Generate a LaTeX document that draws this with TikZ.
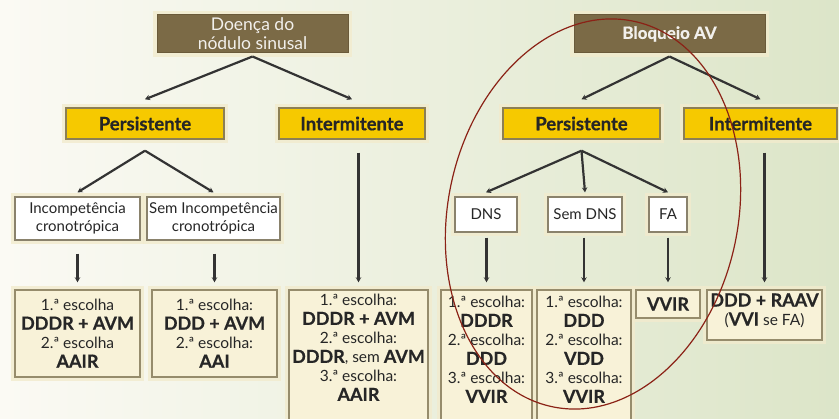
\documentclass[tikz,border=0pt]{standalone}
\usepackage{fontspec}
\setmainfont{Lato}[BoldFeatures={FakeBold=0.6}]
\usetikzlibrary{arrows.meta}
\definecolor{brownbox}{HTML}{7B6A46}
\definecolor{brownbord}{HTML}{6A5A3A}
\definecolor{yfill}{HTML}{F6C900}
\definecolor{ybord}{HTML}{8C7F55}
\definecolor{wbord}{HTML}{8A826C}
\definecolor{cfill}{HTML}{F8F2D8}
\definecolor{cbord}{HTML}{968C6C}
\definecolor{txtc}{HTML}{262626}
\definecolor{linec}{HTML}{333333}
\definecolor{halocol}{HTML}{F2EBCD}
\definecolor{bgl}{HTML}{FBFAF4}
\definecolor{bgr}{HTML}{DCE5C8}
\definecolor{ellc}{HTML}{8B2216}
\newcommand{\Bx}[1]{{\bfseries\fontsize{18}{19}\selectfont #1}}
\begin{document}
\begin{tikzpicture}[x=1pt,y=-1pt,
  halo/.style={preaction={draw=halocol,line width=8pt,opacity=0.8}},
  arr/.style={draw=linec,line width=2.2pt,-{Stealth[length=5pt,width=5.5pt]}},
  topbox/.style={halo,fill=brownbox,draw=brownbord,line width=1pt,text=white!90!brownbox,
     font=\fontsize{17.5}{19}\selectfont,align=center,inner sep=0pt},
  ybox/.style={halo,fill=yfill,draw=ybord,line width=1.4pt,text=txtc,
     font=\bfseries\fontsize{18.5}{19}\selectfont,inner sep=0pt},
  wbox/.style={halo,fill=white,draw=wbord,line width=1.3pt,text=txtc,
     font=\fontsize{15}{18}\selectfont,align=center,inner sep=0pt},
  cbox/.style={halo,fill=cfill,draw=cbord,line width=1.4pt,inner sep=0pt},
  ctxt/.style={text=txtc,font=\fontsize{15.5}{19}\selectfont,align=center,inner sep=0pt}]
\useasboundingbox (0,0) rectangle (839,419);
\fill[left color=bgl,right color=bgr] (0,0) rectangle (839,419);

% top level
\node[topbox,minimum width=191pt,minimum height=38pt] (doenca) at (252.5,34) {Doença do\\nódulo sinusal};
\node[topbox,font=\bfseries\fontsize{17}{18}\selectfont,minimum width=191pt,minimum height=38pt] (bloq) at (669.5,34) {Bloqueio AV};

% second level
\node[ybox,minimum width=158pt,minimum height=31pt] (persL) at (145,123.5) {Persistente};
\node[ybox,minimum width=146pt,minimum height=31pt] (interL) at (352,123.5) {Intermitente};
\node[ybox,minimum width=157pt,minimum height=31pt] (persR) at (581.5,123.5) {Persistente};
\node[ybox,minimum width=153pt,minimum height=31pt] (interR) at (760.5,123.5) {Intermitente};

% third level
\node[wbox,minimum width=125pt,minimum height=43pt] (incomp) at (77.5,218.5) {Incompetência\\cronotrópica};
\node[wbox,minimum width=133pt,minimum height=43pt] (semincomp) at (213.5,218.5) {Sem Incompetência\\cronotrópica};
\node[wbox,minimum width=62pt,minimum height=35pt] (dns) at (486,214.5) {DNS};
\node[wbox,minimum width=74pt,minimum height=35pt] (semdns) at (585,214.5) {Sem DNS};
\node[wbox,minimum width=38pt,minimum height=35pt] (fa) at (668,214.5) {FA};

% bottom boxes
\node[cbox,minimum width=125pt,minimum height=87pt] (b1) at (77.5,333.5) {};
\node[ctxt] (t1) at (b1.center) {1.ª escolha\\\Bx{DDDR + AVM}\\2.ª escolha\\\Bx{AAIR}};
\node[cbox,minimum width=125pt,minimum height=87pt] (b2) at (214.5,333.5) {};
\node[ctxt] (t2) at (b2.center) {1.ª escolha:\\\Bx{DDD + AVM}\\2.ª escolha:\\\Bx{AAI}};
\node[cbox,minimum width=139pt,minimum height=140pt] (b3) at (358.5,360) {};
\node[ctxt,anchor=north] (t3) at ([yshift=-5pt]b3.north) {1.ª escolha:\\\Bx{DDDR + AVM}\\2.ª escolha:\\\Bx{DDDR}, sem \Bx{AVM}\\3.ª escolha:\\\Bx{AAIR}};
\node[cbox,minimum width=91pt,minimum height=140pt] (b4) at (486.5,360) {};
\node[ctxt,anchor=north] (t4) at ([yshift=-7pt]b4.north) {1.ª escolha:\\\Bx{DDDR}\\2.ª escolha:\\\Bx{DDD}\\3.ª escolha:\\\Bx{VVIR}};
\node[cbox,minimum width=94pt,minimum height=140pt] (b5) at (584,360) {};
\node[ctxt,anchor=north] (t5) at ([yshift=-7pt]b5.north) {1.ª escolha:\\\Bx{DDD}\\2.ª escolha:\\\Bx{VDD}\\3.ª escolha:\\\Bx{VVIR}};
\node[cbox,minimum width=64pt,minimum height=28pt] (b6) at (668,304) {};
\node[ctxt] (t6) at (b6.center) {\Bx{VVIR}};
\node[cbox,minimum width=115pt,minimum height=50pt] (b7) at (764.5,315) {};
\node[ctxt,anchor=north] (t7) at ([yshift=-4pt]b7.north) {\Bx{DDD + RAAV}\\(\Bx{VVI} se FA)};

% connectors
\draw[arr] ([yshift=-3pt]doenca.south) -- ([yshift=8pt]persL.north);
\draw[arr] ([yshift=-3pt]doenca.south) -- ([yshift=8pt]interL.north);
\draw[arr] ([yshift=-3pt]bloq.south) -- ([yshift=8pt]persR.north);
\draw[arr] ([yshift=-3pt]bloq.south) -- ([yshift=8pt]interR.north);
\draw[arr] ([yshift=-11pt]persL.south) -- ([yshift=4pt]incomp.north);
\draw[arr] ([yshift=-11pt]persL.south) -- ([yshift=4pt]semincomp.north);
\draw[arr] ([yshift=-11pt]persR.south) -- ([yshift=4pt]dns.north);
\draw[arr] ([yshift=-11pt]persR.south) -- ([yshift=4pt]semdns.north);
\draw[arr] ([yshift=-11pt]persR.south) -- ([yshift=4pt]fa.north);
\draw[arr] (b1.north |- incomp.south) ++(0,13) -- ([yshift=7pt]b1.north);
\draw[arr] (b2.north |- semincomp.south) ++(0,13) -- ([yshift=7pt]b2.north);
\draw[arr] (b3.north |- interL.south) ++(0,13) -- ([yshift=7pt]b3.north);
\draw[arr] (b4.north |- dns.south) ++(0,5) -- ([yshift=7pt]b4.north);
\draw[arr] (b5.north |- semdns.south) ++(0,5) -- ([yshift=7pt]b5.north);
\draw[arr] (b6.north |- fa.south) ++(0,5) -- ([yshift=7pt]b6.north);
\draw[arr] (b7.north |- interR.south) ++(0,13) -- ([yshift=7pt]b7.north);

% highlight ellipse
\draw[ellc,line width=1.2pt,rotate around={-12:(593,214)}] (593,214) ellipse [x radius=145pt,y radius=197pt];
\end{tikzpicture}
\end{document}
